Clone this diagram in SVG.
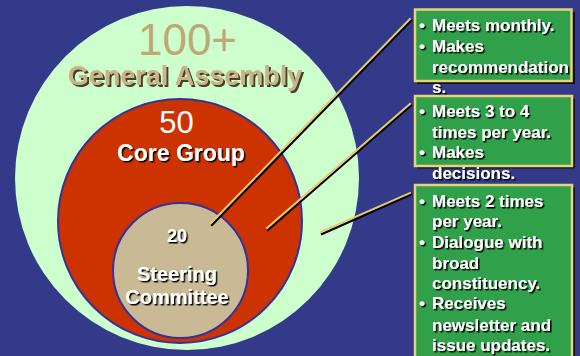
<svg xmlns="http://www.w3.org/2000/svg" width="580" height="356" viewBox="0 0 580 356">
<defs>
<filter id="sh" x="-10%" y="-30%" width="130%" height="160%"><feDropShadow dx="1.5" dy="1.5" stdDeviation="0" flood-color="#000" flood-opacity="1"/></filter>
<filter id="shb" x="-10%" y="-30%" width="130%" height="160%"><feDropShadow dx="2" dy="2" stdDeviation="0" flood-color="#4a4028" flood-opacity="1"/></filter>
</defs>
<style>
text{font-family:"Liberation Sans",Arial,sans-serif;}
.c{text-anchor:middle;}
.w{fill:#fff;font-weight:bold;filter:url(#sh);}
.bt{fill:#fff;font-weight:bold;font-size:17px;filter:url(#sh);}
.box{fill:#31A04A;stroke:#E8D27A;stroke-width:2.5;}
.bsh{fill:#111;}
.ls{stroke:#000;stroke-width:2.2;stroke-linecap:square;}
.ly{stroke:#E6C96E;stroke-width:2;stroke-linecap:square;}
</style>
<rect width="580" height="356" fill="#333A8A"/>
<g id="general-assembly">
<circle cx="187" cy="178" r="172" fill="#CCFFCC"/>
<text class="c" x="187.5" y="55" font-size="44" fill="#BFA877">100+</text>
<text class="c" x="185" y="85" font-size="27" font-weight="bold" fill="#C8B48A" filter="url(#shb)">General Assembly</text>
</g>
<g id="core-group">
<circle cx="180" cy="221" r="122" fill="#CC3300" stroke="#333399" stroke-width="2"/>
<text class="c" x="176.5" y="133" font-size="31" fill="#fff">50</text>
<text class="c w" x="181" y="161" font-size="23">Core Group</text>
</g>
<g id="steering-committee">
<circle cx="180.5" cy="270.5" r="67.5" fill="#C9B994" stroke="#333399" stroke-width="2"/>
<text class="c w" x="177" y="242" font-size="18">20</text>
<text class="c w" x="177" y="281" font-size="20">Steering</text>
<text class="c w" x="177" y="304" font-size="20">Committee</text>
</g>
<g id="connectors">
<line class="ls" x1="212" y1="225" x2="411" y2="20.5"/>
<line class="ly" x1="211" y1="223" x2="410" y2="19"/>
<line class="ls" x1="268" y1="230" x2="411" y2="105.5"/>
<line class="ly" x1="267" y1="228" x2="410" y2="104"/>
<line class="ls" x1="322" y1="234" x2="411" y2="194.5"/>
<line class="ly" x1="321" y1="232" x2="410" y2="193"/>
</g>
<g id="box-steering">
<rect class="bsh" x="417" y="12" width="158" height="72"/>
<rect class="box" x="415" y="9.5" width="156.5" height="71.5"/>
<text class="bt"><tspan x="419" y="31">•</tspan><tspan x="432" y="31">Meets monthly.</tspan></text>
<text class="bt"><tspan x="419" y="52">•</tspan><tspan x="432" y="52">Makes</tspan></text>
<text class="bt" x="432" y="73">recommendation</text>
<text class="bt" x="432" y="93">s.</text>
</g>
<g id="box-core">
<rect class="bsh" x="417" y="98.5" width="158" height="70"/>
<rect class="box" x="415" y="96" width="157" height="70"/>
<text class="bt"><tspan x="419" y="117">•</tspan><tspan x="432" y="117">Meets 3 to 4</tspan></text>
<text class="bt" x="432" y="138">times per year.</text>
<text class="bt"><tspan x="419" y="158">•</tspan><tspan x="432" y="158">Makes</tspan></text>
<text class="bt" x="432" y="179">decisions.</text>
</g>
<g id="box-general">
<rect class="bsh" x="417" y="187.5" width="158" height="180"/>
<rect class="box" x="415" y="185" width="157" height="180"/>
<text class="bt"><tspan x="419" y="207">•</tspan><tspan x="432" y="207">Meets 2 times</tspan></text>
<text class="bt" x="432" y="227">per year.</text>
<text class="bt"><tspan x="419" y="248">•</tspan><tspan x="432" y="248">Dialogue with</tspan></text>
<text class="bt" x="432" y="269">broad</text>
<text class="bt" x="432" y="289">constituency.</text>
<text class="bt"><tspan x="419" y="309">•</tspan><tspan x="432" y="309">Receives</tspan></text>
<text class="bt" x="432" y="331">newsletter and</text>
<text class="bt" x="432" y="351">issue updates.</text>
</g>
</svg>
